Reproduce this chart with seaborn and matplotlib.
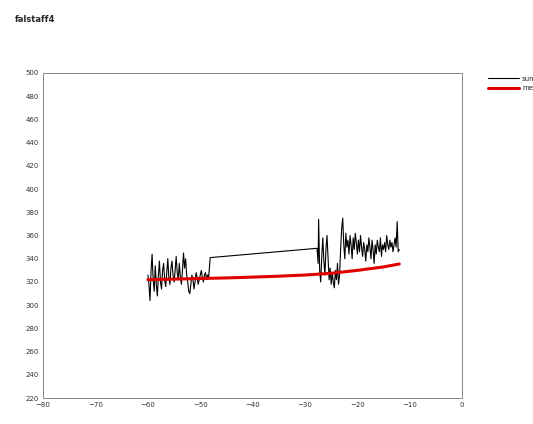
import matplotlib
matplotlib.use("Agg")
import matplotlib.pyplot as plt
import seaborn as sns
import pandas as pd

# Observed series: early noisy block, a sparse stretch, then a late noisy block
obs_x = [
    -60.0, -59.8, -59.6, -59.4, -59.2, -59.0, -58.8, -58.6, -58.4, -58.2,
    -58.0, -57.8, -57.6, -57.4, -57.2, -57.0, -56.8, -56.6, -56.4, -56.2,
    -56.0, -55.8, -55.6, -55.4, -55.2, -55.0, -54.8, -54.6, -54.4, -54.2,
    -54.0, -53.8, -53.6, -53.4, -53.2, -53.0, -52.8, -52.6, -52.4, -52.2,
    -52.0, -51.8, -51.6, -51.4, -51.2, -51.0, -50.8, -50.6, -50.4, -50.2,
    -50.0, -49.8, -49.6, -49.4, -49.2, -49.0, -48.8, -48.6, -48.4, -48.1,
    -27.7, -27.5, -27.4, -27.3, -27.2, -27.0, -26.8, -26.6, -26.4, -26.2,
    -26.0, -25.8, -25.6, -25.4, -25.2, -25.0, -24.8, -24.6, -24.4, -24.2,
    -24.0, -23.8, -23.6, -23.4, -23.2, -23.0, -22.8, -22.6, -22.4, -22.2,
    -22.0, -21.8, -21.6, -21.4, -21.2, -21.0, -20.8, -20.6, -20.4, -20.2,
    -20.0, -19.8, -19.6, -19.4, -19.2, -19.0, -18.8, -18.6, -18.4, -18.2,
    -18.0, -17.8, -17.6, -17.4, -17.2, -17.0, -16.8, -16.6, -16.4, -16.2,
    -16.0, -15.8, -15.6, -15.4, -15.2, -15.0, -14.8, -14.6, -14.4, -14.2,
    -14.0, -13.8, -13.6, -13.4, -13.2, -13.0, -12.8, -12.6, -12.4, -12.2,
    -12.0,
]
obs_y = [
    326, 318, 304, 330, 344, 322, 312, 334, 318, 308,
    326, 338, 320, 314, 330, 336, 322, 316, 328, 340,
    324, 318, 332, 338, 326, 320, 330, 342, 328, 322,
    336, 324, 318, 330, 345, 332, 340, 326, 320, 312,
    310, 318, 326, 322, 314, 320, 328, 324, 318, 322,
    326, 330, 324, 320, 326, 328, 322, 326, 324, 341,
    349, 336, 374, 352, 330, 320, 342, 358, 338, 326,
    348, 360, 340, 322, 332, 318, 328, 320, 315, 330,
    322, 336, 318, 326, 348, 366, 375, 352, 340, 362,
    350, 356, 344, 360, 352, 340, 358, 348, 362, 354,
    344, 356, 346, 360, 350, 342, 354, 348, 338, 352,
    346, 358, 350, 340, 356, 348, 336, 352, 344, 356,
    350, 346, 358, 342, 352, 348, 354, 346, 360, 352,
    348, 356, 350, 354, 346, 352, 358, 350, 372, 346,
    348,
]

# Smooth reference curve
mean_x = [-60, -55, -50, -45, -40, -35, -30, -25, -20, -15, -12]
mean_y = [322, 322.5, 323, 323.5, 324.2, 325, 326, 327.5, 330, 333, 335.5]

x_ticks = [-80, -70, -60, -50, -40, -30, -20, -10, 0]
y_ticks = [220, 240, 260, 280, 300, 320, 340, 360, 380, 400, 420, 440, 460, 480, 500]

sns.set_style("white")
plt.rcParams["font.family"] = ["DejaVu Sans"]

fig = plt.figure(figsize=(5.33, 4.24), dpi=100)
ax = fig.add_axes([0.081, 0.061, 0.786, 0.767])

obs = pd.DataFrame({"x": obs_x, "y": obs_y})
mean = pd.DataFrame({"x": mean_x, "y": mean_y})

sns.lineplot(data=obs, x="x", y="y", sort=False, estimator=None,
             color="black", linewidth=0.8, ax=ax, label="sum")
sns.lineplot(data=mean, x="x", y="y", sort=False, estimator=None,
             color="#e00000", linewidth=2.2, ax=ax, label="mean")

ax.set_xlim(-80, 0)
ax.set_ylim(220, 500)
ax.set_xticks(x_ticks)
ax.set_yticks(y_ticks)
ax.set_xlabel("")
ax.set_ylabel("")
ax.tick_params(direction="in", length=3, width=0.6, labelsize=5,
               colors="#555555", labelcolor="#333333", pad=3)
for s in ax.spines.values():
    s.set_color("#888888")
    s.set_linewidth(0.7)

ax.legend(loc="upper left", bbox_to_anchor=(1.055, 1.0), frameon=False,
          fontsize=5, handlelength=4.5, handletextpad=0.4, borderaxespad=0)

fig.text(0.028, 0.965, "falstaff4", fontsize=6, fontweight="bold",
         ha="left", va="top")

fig.savefig("out.png", dpi=100)
